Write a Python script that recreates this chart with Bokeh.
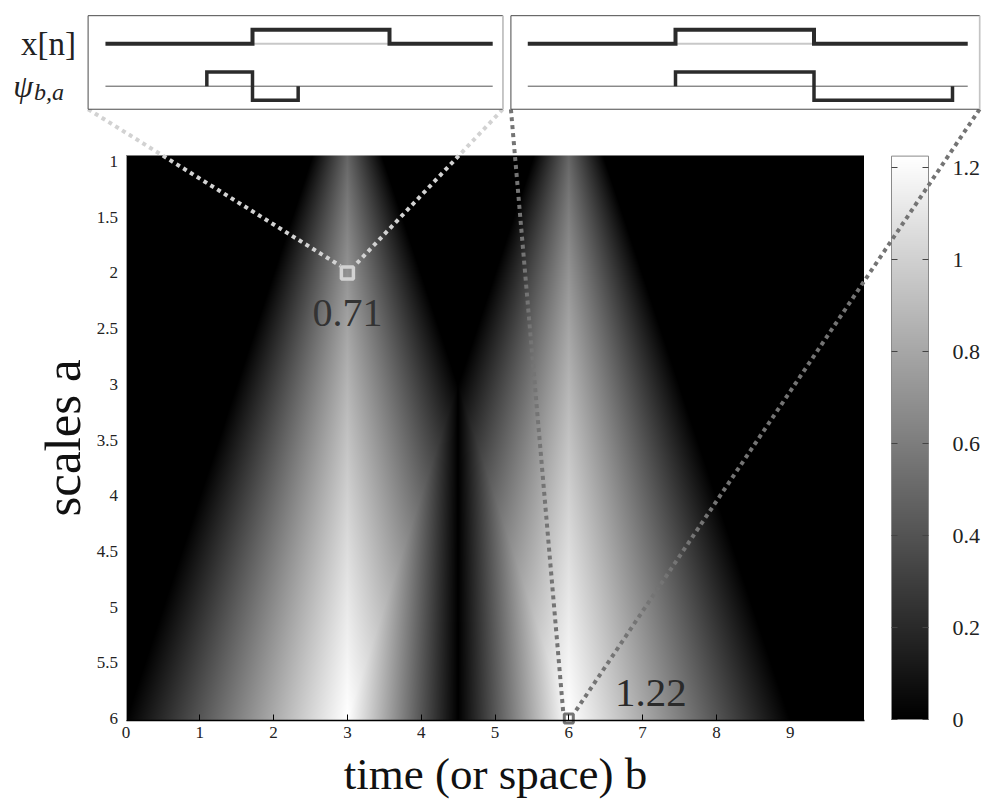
import numpy as np
from bokeh.plotting import figure
from bokeh.models import Range1d, LinearAxis, FixedTicker, LinearColorMapper, Label
from bokeh.embed import file_html
from bokeh.resources import INLINE

# ---------------- data ----------------
pulse_start = 3.0          # x[n] = 1 on [3, 6)
pulse_end = 6.0
pulse_height = 1.0
b_limits = [0.0, 10.0]     # time (or space) b
a_limits = [0.946, 6.018]  # scales a
x_ticks = [0, 1, 2, 3, 4, 5, 6, 7, 8, 9]
x_tick_labels = ["0", "1", "2", "3", "4", "5", "6", "7", "8", "9"]
y_tick_labels = ["1", "1.5", "2", "2.5", "3", "3.5", "4", "4.5", "5", "5.5", "6"]
cb_tick_labels = ["0", "0.2", "0.4", "0.6", "0.8", "1", "1.2"]
marked_b = [3.0, 6.0]
marked_a = [2.0, 6.0]
marked_labels = ["0.71", "1.22"]
inset_windows = [[-0.6, 8.48], [-0.565, 9.587]]   # time shown in each inset box
inset_signal = [[-0.22, 8.26], [-0.2, 9.33]]      # extent of drawn signal
inset_v = [-4.63, 1.99]
wavelet_display_amp = 1.0

# ---------------- layout helpers ----------------
W_FIG, H_FIG, M = 987, 799, 0
SERIF = "Liberation Serif"


def lin(pa, va, pb, vb):
    k = (vb - va) / (pb - pa)
    return (lambda p: va + (p - pa) * k), (lambda v: pa + (v - va) / k)


def rx(f):
    return Range1d(start=f(M), end=f(M + W_FIG))


def ry(f):
    return Range1d(start=f(M + H_FIG), end=f(M))


mx_val, mx_pg = lin(125.5, 0.0, 863.5, 10.0)
my_val, my_pg = lin(161.0, 1.0, 718.0, 6.0)
i1_val, i1_pg = lin(252.0, 3.0, 389.0, 6.0)
i2_val, i2_pg = lin(675.0, 3.0, 952.0, 9.0)
iy_val, iy_pg = lin(43.3, 0.0, 85.7, -3.0)
cx_val, cx_pg = lin(891.0, 0.0, 928.0, 1.0)
cy_val, cy_pg = lin(719.0, 0.0, 167.0, 1.2)

p = figure(width=W_FIG, height=H_FIG, x_range=rx(mx_val), y_range=ry(my_val),
           output_backend="svg", toolbar_location=None,
           x_axis_location=None, y_axis_location=None, min_border=0)
p.outline_line_color = None
p.grid.visible = False
p.background_fill_color = "white"
p.border_fill_color = "white"
p.extra_x_ranges = {"in1": rx(i1_val), "in2": rx(i2_val), "cb": rx(cx_val)}
p.extra_y_ranges = {"ins": ry(iy_val), "cb": ry(cy_val)}


# ---------------- Haar CWT magnitude of the pulse ----------------
def overlap(lo, hi):
    return np.clip(np.minimum(hi, pulse_end) - np.maximum(lo, pulse_start), 0, None)


def cwt(b, a):
    return np.abs(pulse_height * (overlap(b - a / 2, b) - overlap(b, b + a / 2)) / np.sqrt(a))


nb, na = 738, 565
bs = b_limits[0] + (np.arange(nb) + 0.5) * (b_limits[1] - b_limits[0]) / nb
as_ = a_limits[0] + (np.arange(na) + 0.5) * (a_limits[1] - a_limits[0]) / na
B, A = np.meshgrid(bs, as_)
mag = cwt(B, A)
vmax = float(cwt(np.array(6.0), np.array(6.0)))

gray = ["#%02x%02x%02x" % (i, i, i) for i in range(256)]
mapper = LinearColorMapper(palette=gray, low=0, high=vmax)

p.image(image=[mag], x=b_limits[0], y=a_limits[0], dw=b_limits[1] - b_limits[0],
        dh=a_limits[1] - a_limits[0], color_mapper=mapper)

# colour bar drawn through its own scale
cb_vals = np.linspace(0, vmax, 256).reshape(-1, 1)
p.image(image=[cb_vals], x=0, y=0, dw=1, dh=vmax, color_mapper=mapper,
        x_range_name="cb", y_range_name="cb")
p.quad(left=0, right=1, bottom=0, top=vmax, fill_color=None, line_color="#8a8a8a",
       line_width=1, x_range_name="cb", y_range_name="cb")

cb_ticks = [float(s) for s in cb_tick_labels]
ax_cb = LinearAxis(x_range_name="cb", y_range_name="cb", fixed_location=1,
                   ticker=FixedTicker(ticks=cb_ticks),
                   major_label_overrides={t: s for t, s in zip(cb_ticks, cb_tick_labels)},
                   major_tick_in=6, major_tick_out=0, minor_tick_line_color=None,
                   axis_line_color=None, major_tick_line_color="#444444",
                   major_label_standoff=24, major_label_text_font=SERIF,
                   major_label_text_font_size="22px", major_label_text_color="#222222")
p.add_layout(ax_cb, "right")
ax_cb2 = LinearAxis(x_range_name="cb", y_range_name="cb", fixed_location=0,
                    ticker=FixedTicker(ticks=cb_ticks),
                    major_label_overrides={t: "" for t in cb_ticks},
                    major_tick_in=6, major_tick_out=0, minor_tick_line_color=None,
                    axis_line_color=None, major_tick_line_color="#444444")
p.add_layout(ax_cb2, "left")

# main axes
y_ticks = [float(s) for s in y_tick_labels]
xaxis = LinearAxis(fixed_location=a_limits[1], bounds=(b_limits[0], b_limits[1]),
                   ticker=FixedTicker(ticks=x_ticks),
                   major_label_overrides={t: s for t, s in zip(x_ticks, x_tick_labels)},
                   major_tick_in=6, major_tick_out=0, minor_tick_line_color=None,
                   axis_line_color="black", axis_line_width=1.5, major_tick_line_color="black",
                   major_label_standoff=6, major_label_text_font=SERIF,
                   major_label_text_font_size="17px", major_label_text_color="#222222",
                   axis_label="time (or space) b", axis_label_standoff=8,
                   axis_label_text_font=SERIF, axis_label_text_font_size="45px",
                   axis_label_text_font_style="normal", axis_label_text_color="#111111")
p.add_layout(xaxis, "below")
yaxis = LinearAxis(fixed_location=b_limits[0], bounds=(a_limits[0], a_limits[1]),
                   ticker=FixedTicker(ticks=y_ticks),
                   major_label_overrides={t: s for t, s in zip(y_ticks, y_tick_labels)},
                   major_tick_in=0, major_tick_out=0, minor_tick_line_color=None,
                   axis_line_color="#9a9a9a", axis_line_width=1, major_tick_line_color=None,
                   major_label_standoff=8, major_label_text_font=SERIF,
                   major_label_text_font_size="17px", major_label_text_color="#222222")
p.add_layout(yaxis, "left")
# y-axis title, centred on the axis extent
p.add_layout(Label(x=b_limits[0], y=(a_limits[0] + a_limits[1]) / 2, x_offset=-63,
                   text="scales a", angle=np.pi / 2, text_align="center",
                   text_baseline="middle", text_font=SERIF, text_font_size="51px",
                   text_color="#111111"))

# ---------------- dotted connectors + markers ----------------
inset_pg = [i1_pg, i2_pg]
conn_colors = ["#d2d2d2", "#747474"]
sq_sizes = [12, 9]
sq_widths = [3.5, 3]
for k in range(2):
    half = sq_sizes[k] / 2.0 + 1
    px_t = mx_pg(marked_b[k])
    py_t = my_pg(marked_a[k]) - half
    yb = iy_pg(inset_v[0])
    for t_corner, sgn in ((inset_windows[k][0], -1), (inset_windows[k][1], 1)):
        px0 = inset_pg[k](t_corner)
        p.segment(x0=[mx_val(px0)], y0=[my_val(yb)],
                  x1=[mx_val(px_t + sgn * half)], y1=[my_val(py_t)],
                  line_color=conn_colors[k], line_width=4, line_dash="4 4")
    p.scatter(x=[marked_b[k]], y=[marked_a[k]], marker="square", size=sq_sizes[k],
              fill_color=None, line_color=conn_colors[k], line_width=sq_widths[k])

p.add_layout(Label(x=marked_b[0], y=marked_a[0], text=marked_labels[0], x_offset=0, y_offset=-53,
                   text_align="center", text_font=SERIF, text_font_size="40px",
                   text_color="#333333"))
p.add_layout(Label(x=marked_b[1], y=marked_a[1], text=marked_labels[1], x_offset=82, y_offset=13,
                   text_align="center", text_font=SERIF, text_font_size="41px",
                   text_color="#2a2a2a"))

# ---------------- insets ----------------
xr_names = ["in1", "in2"]
for k in range(2):
    xr = xr_names[k]
    t0, t1 = inset_windows[k]
    s0, s1 = inset_signal[k]
    b, a = marked_b[k], marked_a[k]
    p.quad(left=t0, right=t1, bottom=inset_v[0], top=inset_v[1], fill_color="white",
           line_color="#4a4a4a", line_width=1, x_range_name=xr, y_range_name="ins")
    p.segment(x0=[t1], y0=[inset_v[0]], x1=[t1], y1=[inset_v[1]], line_color="#c4c4c4",
              line_width=1.5, x_range_name=xr, y_range_name="ins")
    # x[n]
    p.segment(x0=[pulse_start], y0=[0], x1=[pulse_end], y1=[0], line_color="#c8c8c8",
              line_width=2, x_range_name=xr, y_range_name="ins")
    p.line(x=[s0, pulse_start, pulse_start, pulse_end, pulse_end, s1],
           y=[0, 0, pulse_height, pulse_height, 0, 0], line_color="#2b2b2b",
           line_width=4, line_join="miter", x_range_name=xr, y_range_name="ins")
    # psi_{b,a}
    base = -3.0
    p.segment(x0=[s0], y0=[base], x1=[s1], y1=[base], line_color="#555555",
              line_width=1, x_range_name=xr, y_range_name="ins")
    lo, hi = b - a / 2, b + a / 2
    amp = wavelet_display_amp
    p.line(x=[lo, lo, b, b, hi, hi],
           y=[base, base + amp, base + amp, base - amp, base - amp, base],
           line_color="#2b2b2b", line_width=3.5, line_join="miter",
           x_range_name=xr, y_range_name="ins")

p.add_layout(Label(x=inset_windows[0][0], y=0, x_offset=-12, text="x[n]",
                   x_range_name="in1", y_range_name="ins", text_align="right",
                   text_baseline="middle", text_font=SERIF, text_font_size="33px",
                   text_color="#222222"))
p.add_layout(Label(x=inset_windows[0][0], y=-3, x_offset=-55, y_offset=0, text="ψ",
                   x_range_name="in1", y_range_name="ins", text_align="right",
                   text_baseline="alphabetic", text_font=SERIF, text_font_size="32px",
                   text_font_style="italic", text_color="#222222"))
p.add_layout(Label(x=inset_windows[0][0], y=-3, x_offset=-54, y_offset=-6, text="b,a",
                   x_range_name="in1", y_range_name="ins", text_align="left",
                   text_baseline="alphabetic", text_font=SERIF, text_font_size="24px",
                   text_font_style="italic", text_color="#222222"))

open("out.html", "w").write(file_html(p, INLINE))
